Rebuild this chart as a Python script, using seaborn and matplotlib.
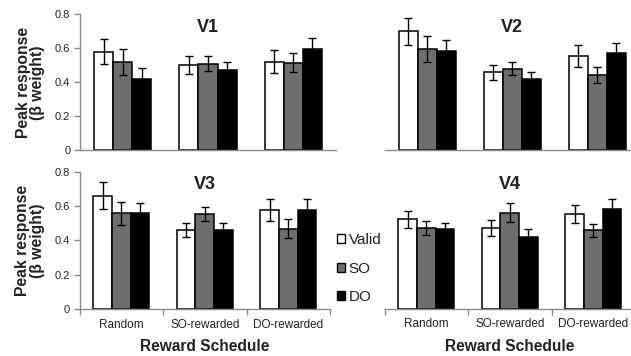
import numpy as np
import pandas as pd
import seaborn as sns
import matplotlib
matplotlib.use("Agg")
import matplotlib.pyplot as plt
from matplotlib.patches import Patch
from matplotlib.ticker import FixedLocator, FuncFormatter

# ---- data -------------------------------------------------------------
schedules = ["Random", "SO-rewarded", "DO-rewarded"]
conditions = ["Valid", "SO", "DO"]
regions = ["V1", "V2", "V3", "V4"]

# peak response (beta weight), one list per condition, ordered by schedule
v1_valid = [0.58, 0.50, 0.52]
v1_so = [0.52, 0.51, 0.515]
v1_do = [0.42, 0.47, 0.595]
v1_valid_err = [0.073, 0.053, 0.068]
v1_so_err = [0.078, 0.045, 0.055]
v1_do_err = [0.063, 0.047, 0.065]

v2_valid = [0.70, 0.46, 0.555]
v2_so = [0.595, 0.48, 0.445]
v2_do = [0.585, 0.42, 0.575]
v2_valid_err = [0.08, 0.044, 0.067]
v2_so_err = [0.078, 0.038, 0.047]
v2_do_err = [0.065, 0.041, 0.059]

v3_valid = [0.66, 0.46, 0.577]
v3_so = [0.557, 0.554, 0.468]
v3_do = [0.558, 0.46, 0.577]
v3_valid_err = [0.078, 0.042, 0.066]
v3_so_err = [0.066, 0.041, 0.055]
v3_do_err = [0.058, 0.044, 0.063]

v4_valid = [0.52, 0.47, 0.552]
v4_so = [0.47, 0.56, 0.456]
v4_do = [0.462, 0.42, 0.582]
v4_valid_err = [0.05, 0.049, 0.052]
v4_so_err = [0.041, 0.056, 0.038]
v4_do_err = [0.037, 0.043, 0.055]

means = {
    "V1": [v1_valid, v1_so, v1_do],
    "V2": [v2_valid, v2_so, v2_do],
    "V3": [v3_valid, v3_so, v3_do],
    "V4": [v4_valid, v4_so, v4_do],
}
errors = {
    "V1": [v1_valid_err, v1_so_err, v1_do_err],
    "V2": [v2_valid_err, v2_so_err, v2_do_err],
    "V3": [v3_valid_err, v3_so_err, v3_do_err],
    "V4": [v4_valid_err, v4_so_err, v4_do_err],
}

rows = []
for r in regions:
    for ci, c in enumerate(conditions):
        for si, s in enumerate(schedules):
            rows.append({"region": r, "schedule": s, "condition": c,
                         "value": means[r][ci][si], "err": errors[r][ci][si]})
df = pd.DataFrame(rows)

# ---- style ------------------------------------------------------------
sns.set_style("white")
plt.rcParams["font.family"] = ["Liberation Sans", "DejaVu Sans"]

palette = {"Valid": "#ffffff", "SO": "#6e6e6e", "DO": "#000000"}
spine_col = "#8a8a8a"
text_col = "#222222"

W, H = 631, 356
fig = plt.figure(figsize=(W / 100, H / 100), dpi=100)


def px_axes(left, right, top, bottom):
    return fig.add_axes([left / W, 1 - bottom / H, (right - left) / W, (bottom - top) / H])


layout = {
    "V1": (80, 336, 14.3, 150.3),
    "V2": (384.5, 640, 14.3, 150.5),
    "V3": (79.5, 330, 171.7, 309),
    "V4": (384.5, 635, 171.5, 308.5),
}

for r in regions:
    ax = px_axes(*layout[r])
    sub = df[df["region"] == r]
    sns.barplot(data=sub, x="schedule", y="value", hue="condition",
                order=schedules, hue_order=conditions, palette=palette,
                edgecolor="black", linewidth=1.1, width=0.67, gap=0,
                errorbar=None, legend=False, ax=ax, zorder=2)
    # error bars on top of each bar
    for ci, c in enumerate(conditions):
        cont = ax.containers[ci]
        errs = sub[sub["condition"] == c].set_index("schedule").loc[schedules, "err"].values
        xs = [b.get_x() + b.get_width() / 2 for b in cont]
        ys = [b.get_height() for b in cont]
        ax.errorbar(xs, ys, yerr=errs, fmt="none", ecolor="black",
                    elinewidth=1.0, capsize=3, capthick=1.0, zorder=3)

    ax.set_xlim(-0.5, 2.5)
    ax.set_ylim(0, 0.8)
    ax.set_xlabel("")
    ax.set_ylabel("")
    ax.set_facecolor("none")
    for side in ["top", "right"]:
        ax.spines[side].set_visible(False)
    ax.spines["bottom"].set_color(spine_col)
    ax.spines["bottom"].set_linewidth(1.0)

    is_left = r in ("V1", "V3")
    is_bottom = r in ("V3", "V4")

    if is_left:
        ax.spines["left"].set_color(spine_col)
        ax.spines["left"].set_linewidth(1.0)
        ax.yaxis.set_major_locator(FixedLocator([0, 0.2, 0.4, 0.6, 0.8]))
        ax.yaxis.set_major_formatter(FuncFormatter(lambda v, p: "0" if abs(v) < 1e-9 else f"{v:.1f}"))
        ax.tick_params(axis="y", direction="out", length=4, width=1.0,
                       color=spine_col, labelsize=8, labelcolor=text_col, pad=3, left=True)
        ax.set_ylabel("Peak response\n(\u03b2 weight)", fontsize=11.3, fontweight="bold",
                      color=text_col, linespacing=0.95, labelpad=7)
    else:
        ax.spines["left"].set_visible(False)
        ax.tick_params(axis="y", left=False, labelleft=False)

    if is_bottom:
        ax.set_xticks(range(len(schedules)))
        ax.set_xticklabels(schedules)
        ax.tick_params(axis="x", which="major", length=0, labelsize=8.5,
                       labelcolor=text_col, pad=7)
        ax.set_xticks([-0.5, 0.5, 1.5, 2.5], minor=True)
        ax.tick_params(axis="x", which="minor", direction="out", length=4,
                       width=1.0, color=spine_col, bottom=True)
        ax.set_xlabel("Reward Schedule", fontsize=11.2, fontweight="bold",
                      color=text_col, labelpad=6)
    else:
        ax.tick_params(axis="x", bottom=False, labelbottom=False)

    ax.text(0.5, 0.905, r, transform=ax.transAxes, ha="center", va="center",
            fontsize=13, fontweight="bold", color=text_col)

handles = [Patch(facecolor=palette[c], edgecolor="black", linewidth=1.0, label=c)
           for c in conditions]
fig.legend(handles=handles, loc="upper left", bbox_to_anchor=(337 / W, 1 - 233 / H),
           frameon=False, fontsize=11, handlelength=0.55, handleheight=0.55,
           handletextpad=0.2, labelspacing=0.95, borderpad=0, borderaxespad=0,
           labelcolor=text_col)

fig.savefig("out.png", dpi=100)
